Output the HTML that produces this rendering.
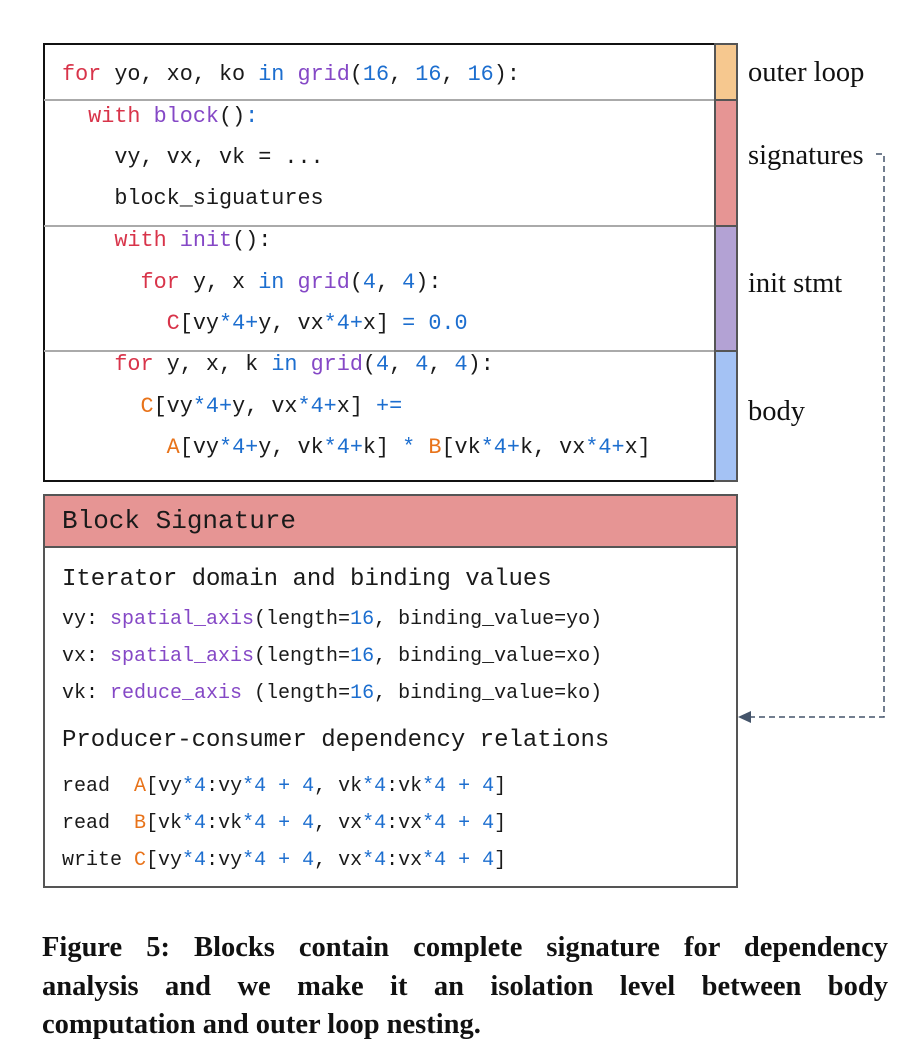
<!DOCTYPE html>
<html><head><meta charset="utf-8"><style>
body{margin:0;width:922px;height:1060px;background:#fff;position:relative;overflow:hidden}
.m{position:absolute;font-family:"Liberation Mono",monospace;white-space:pre;color:#1a1a1a}
.c{font-size:21.8px;line-height:26px}
.s{font-size:20px;line-height:24px}
.k{color:#d8344a}.p{color:#8548c6}.b{color:#1c6ecf}.o{color:#e8731a}
.lab{position:absolute;left:748px;font-family:"Liberation Serif",serif;font-size:28.5px;line-height:30px;color:#111}
.box{position:absolute;box-sizing:border-box}
.cap{position:absolute;left:42px;width:846px;font-family:"Liberation Serif",serif;font-weight:bold;font-size:28.5px;line-height:38px;color:#111;white-space:nowrap}
.j{text-align:justify;text-align-last:justify;white-space:normal}
</style></head><body>
<div class="box" style="left:43px;top:43px;width:672px;height:439px;border:2px solid #111;border-right:none"></div>
<div class="box" style="left:44px;top:99px;width:670px;height:2px;background:#aaa"></div>
<div class="box" style="left:44px;top:225px;width:670px;height:2px;background:#aaa"></div>
<div class="box" style="left:44px;top:350px;width:670px;height:2px;background:#aaa"></div>
<div class="box" style="left:714px;top:43px;width:24px;height:58px;background:#f6c88f;border:2px solid #555"></div>
<div class="box" style="left:714px;top:99px;width:24px;height:128px;background:#e69594;border:2px solid #555"></div>
<div class="box" style="left:714px;top:225px;width:24px;height:127px;background:#b3a2d4;border:2px solid #555"></div>
<div class="box" style="left:714px;top:350px;width:24px;height:132px;background:#a4c2f4;border:2px solid #555"></div>
<div class="lab" style="top:58px">outer loop</div>
<div class="lab" style="top:141px">signatures</div>
<div class="lab" style="top:269px">init stmt</div>
<div class="lab" style="top:397px">body</div>

<div class="m c" style="left:62px;top:62px"><span class="k">for</span> yo, xo, ko <span class="b">in</span> <span class="p">grid</span>(<span class="b">16</span>, <span class="b">16</span>, <span class="b">16</span>):</div>
<div class="m c" style="left:62px;top:104px">  <span class="k">with</span> <span class="p">block</span>()<span class="b">:</span></div>
<div class="m c" style="left:62px;top:145px">    vy, vx, vk = ...</div>
<div class="m c" style="left:62px;top:186px">    block_siguatures</div>
<div class="m c" style="left:62px;top:228px">    <span class="k">with</span> <span class="p">init</span>():</div>
<div class="m c" style="left:62px;top:270px">      <span class="k">for</span> y, x <span class="b">in</span> <span class="p">grid</span>(<span class="b">4</span>, <span class="b">4</span>):</div>
<div class="m c" style="left:62px;top:311px">        <span class="k">C</span>[vy<span class="b">*4+</span>y, vx<span class="b">*4+</span>x] <span class="b">= 0.0</span></div>
<div class="m c" style="left:62px;top:352px">    <span class="k">for</span> y, x, k <span class="b">in</span> <span class="p">grid</span>(<span class="b">4</span>, <span class="b">4</span>, <span class="b">4</span>):</div>
<div class="m c" style="left:62px;top:394px">      <span class="o">C</span>[vy<span class="b">*4+</span>y, vx<span class="b">*4+</span>x] <span class="b">+=</span></div>
<div class="m c" style="left:62px;top:435px">        <span class="o">A</span>[vy<span class="b">*4+</span>y, vk<span class="b">*4+</span>k] <span class="b">*</span> <span class="o">B</span>[vk<span class="b">*4+</span>k, vx<span class="b">*4+</span>x]</div>

<div class="box" style="left:43px;top:494px;width:695px;height:394px;border:2px solid #555"></div>
<div class="box" style="left:43px;top:494px;width:695px;height:54px;background:#e69594;border:2px solid #555"></div>
<div class="m" style="left:62px;top:506px;font-size:26px;line-height:30px">Block Signature</div>
<div class="m" style="left:62px;top:566px;font-size:24px;line-height:28px">Iterator domain and binding values</div>
<div class="m s" style="left:62px;top:608px">vy: <span class="p">spatial_axis</span>(length=<span class="b">16</span>, binding_value=yo)</div>
<div class="m s" style="left:62px;top:645px">vx: <span class="p">spatial_axis</span>(length=<span class="b">16</span>, binding_value=xo)</div>
<div class="m s" style="left:62px;top:682px">vk: <span class="p">reduce_axis</span> (length=<span class="b">16</span>, binding_value=ko)</div>
<div class="m" style="left:62px;top:727px;font-size:24px;line-height:28px">Producer-consumer dependency relations</div>
<div class="m s" style="left:62px;top:775px">read  <span class="o">A</span>[vy<span class="b">*4</span>:vy<span class="b">*4 + 4</span>, vk<span class="b">*4</span>:vk<span class="b">*4 + 4</span>]</div>
<div class="m s" style="left:62px;top:812px">read  <span class="o">B</span>[vk<span class="b">*4</span>:vk<span class="b">*4 + 4</span>, vx<span class="b">*4</span>:vx<span class="b">*4 + 4</span>]</div>
<div class="m s" style="left:62px;top:849px">write <span class="o">C</span>[vy<span class="b">*4</span>:vy<span class="b">*4 + 4</span>, vx<span class="b">*4</span>:vx<span class="b">*4 + 4</span>]</div>

<svg style="position:absolute;left:0;top:0" width="922" height="1060">
<path d="M876 154 H884 V717 H748" fill="none" stroke="#44546a" stroke-width="1.5" stroke-dasharray="6,4"/>
<polygon points="738,717 751,711 751,723" fill="#44546a"/>
</svg>

<div class="cap j" style="top:929px">Figure 5: Blocks contain complete signature for dependency</div>
<div class="cap j" style="top:968px">analysis and we make it an isolation level between body</div>
<div class="cap" style="top:1006px">computation and outer loop nesting.</div>
</body></html>
